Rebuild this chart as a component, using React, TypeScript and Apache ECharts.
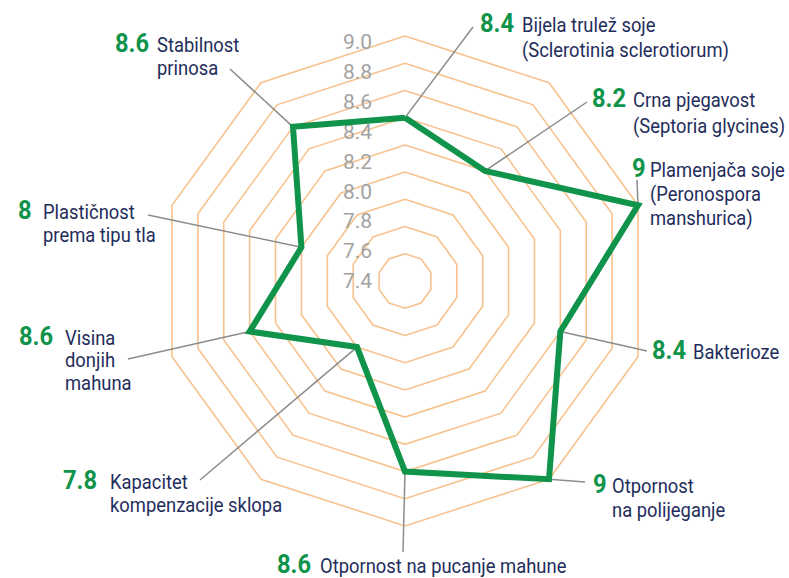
import React, { useEffect, useRef } from 'react';
import * as echarts from 'echarts';

// ---- data ----
const indicatorNames = [
  'Bijela trulež soje (Sclerotinia sclerotiorum)',
  'Crna pjegavost (Septoria glycines)',
  'Plamenjača soje (Peronospora manshurica)',
  'Bakterioze',
  'Otpornost na polijeganje',
  'Otpornost na pucanje mahune',
  'Kapacitet kompenzacije sklopa',
  'Visina donjih mahuna',
  'Plastičnost prema tipu tla',
  'Stabilnost prinosa',
];
const labelLines = [
  ['Bijela trulež soje', '(Sclerotinia sclerotiorum)'],
  ['Crna pjegavost', '(Septoria glycines)'],
  ['Plamenjača soje', '(Peronospora', 'manshurica)'],
  ['Bakterioze'],
  ['Otpornost', 'na polijeganje'],
  ['Otpornost na pucanje mahune'],
  ['Kapacitet', 'kompenzacije sklopa'],
  ['Visina', 'donjih', 'mahuna'],
  ['Plastičnost', 'prema tipu tla'],
  ['Stabilnost', 'prinosa'],
];
// values as plotted by the polygon
const scores = [8.4, 8.2, 9, 8.4, 9, 8.6, 7.8, 8.4, 8, 8.6];
// values as printed next to each label
const scoreLabels = ['8.4', '8.2', '9', '8.4', '9', '8.6', '7.8', '8.6', '8', '8.6'];
const tickLabels = ['9.0', '8.8', '8.6', '8.4', '8.2', '8.0', '7.8', '7.6', '7.4'];
const axisMin = 7.2;
const axisMax = 9.0;

// ---- layout / styles ----
const CX = 405;
const CY = 281;
const R = 245;
const GREEN = '#10934a';
const NAVY = '#1f2d5c';
const PEACH = '#f8c28e';
const LEADER = '#8c8c8c';
const TICK = '#a3a3a3';
const FONT = 'Roboto, "Noto Sans", sans-serif';
const NAME_FS = 20;
const NAME_SCALE = 0.92;
const VAL_FS = 25;
const VAL_SCALE = 0.95;

const labelLayout = [
  { vx: 480, nx: 522, base: 32, lh: 25, end: [473, 27] },
  { vx: 592, nx: 633, base: 107, lh: 26, end: [587, 102] },
  { vx: 632, nx: 650, base: 177, lh: 24, end: [637, 180] },
  { vx: 652, nx: 693, base: 359, lh: 24, end: [647, 351] },
  { vx: 593, nx: 612, base: 493, lh: 24, end: [585, 482] },
  { vx: 277, nx: 320, base: 573, lh: 24, end: [403, 552] },
  { vx: 63, nx: 110, base: 489, lh: 23, end: [200, 480] },
  { vx: 19, nx: 65, base: 345, lh: 22.5, end: [128, 359] },
  { vx: 18, nx: 43, base: 219, lh: 23, end: [148, 215] },
  { vx: 115, nx: 157, base: 52, lh: 23, end: [230, 69] },
];
const tickX = 343;
const tickTop = 42;
const tickStep = 29.9;

// ECharts radar places indicators counter-clockwise; reorder to go clockwise
const order = [0, 9, 8, 7, 6, 5, 4, 3, 2, 1];

export default function App() {
  const ref = useRef<HTMLDivElement>(null);
  useEffect(() => {
    document.body.style.margin = '0';
    if (!ref.current) return;
    const chart = echarts.init(ref.current, null, { renderer: 'svg' });
    chart.setOption({
      animation: false,
      backgroundColor: '#ffffff',
      radar: {
        center: [CX, CY],
        radius: R,
        startAngle: 90,
        splitNumber: 9,
        shape: 'polygon',
        indicator: order.map((i) => ({ name: indicatorNames[i], min: axisMin, max: axisMax })),
        axisName: { show: false },
        axisLine: { show: false },
        axisTick: { show: false },
        axisLabel: { show: false },
        splitArea: { show: false },
        splitLine: { lineStyle: { color: PEACH, width: 1.6 } },
      },
      series: [
        {
          type: 'radar',
          silent: true,
          symbol: 'none',
          z: 5,
          lineStyle: { color: GREEN, width: 6, join: 'miter', miterLimit: 20 },
          data: [{ value: order.map((i) => scores[i]), name: 'Ocjena' }],
        },
      ],
    });

    // data point positions via the radar coordinate system
    const pts: number[][] = [];
    let cs: any = null;
    try {
      cs = (chart as any).getModel().getComponent('radar', 0).coordinateSystem;
    } catch (e) {
      cs = null;
    }
    order.forEach((orig, k) => {
      let p: number[] | null = null;
      if (cs && cs.dataToPoint) {
        try {
          p = cs.dataToPoint(scores[orig], k);
        } catch (e) {
          p = null;
        }
      }
      if (!p) {
        const a = ((90 + k * 36) * Math.PI) / 180;
        const r = (R * (scores[orig] - axisMin)) / (axisMax - axisMin);
        p = [CX + r * Math.cos(a), CY - r * Math.sin(a)];
      }
      pts[orig] = p;
    });

    const graphics: any[] = [];
    labelLayout.forEach((L, i) => {
      graphics.push({
        type: 'line',
        z: 1,
        silent: true,
        shape: { x1: pts[i][0], y1: pts[i][1], x2: L.end[0], y2: L.end[1] },
        style: { stroke: LEADER, lineWidth: 1.5 },
      });
      graphics.push({
        type: 'text',
        z: 10,
        x: L.vx,
        y: L.base - VAL_FS * 0.36,
        scaleX: VAL_SCALE,
        style: {
          text: scoreLabels[i],
          fill: GREEN,
          font: `bold ${VAL_FS}px ${FONT}`,
          align: 'left',
          verticalAlign: 'middle',
        },
      });
      labelLines[i].forEach((line, j) => {
        graphics.push({
          type: 'text',
          z: 10,
          x: L.nx,
          y: L.base + j * L.lh - NAME_FS * 0.36,
          scaleX: NAME_SCALE,
          style: {
            text: line,
            fill: NAVY,
            font: `${NAME_FS}px ${FONT}`,
            align: 'left',
            verticalAlign: 'middle',
          },
        });
      });
    });
    tickLabels.forEach((t, i) => {
      graphics.push({
        type: 'text',
        z: 3,
        x: tickX,
        y: tickTop + i * tickStep,
        style: {
          text: t,
          fill: TICK,
          font: `21px ${FONT}`,
          align: 'left',
          verticalAlign: 'middle',
        },
      });
    });
    chart.setOption({ graphic: graphics });

    return () => chart.dispose();
  }, []);
  return (
    <div
      ref={ref}
      style={{ position: 'fixed', left: 0, top: 0, width: 789, height: 578, background: '#fff' }}
    />
  );
}
